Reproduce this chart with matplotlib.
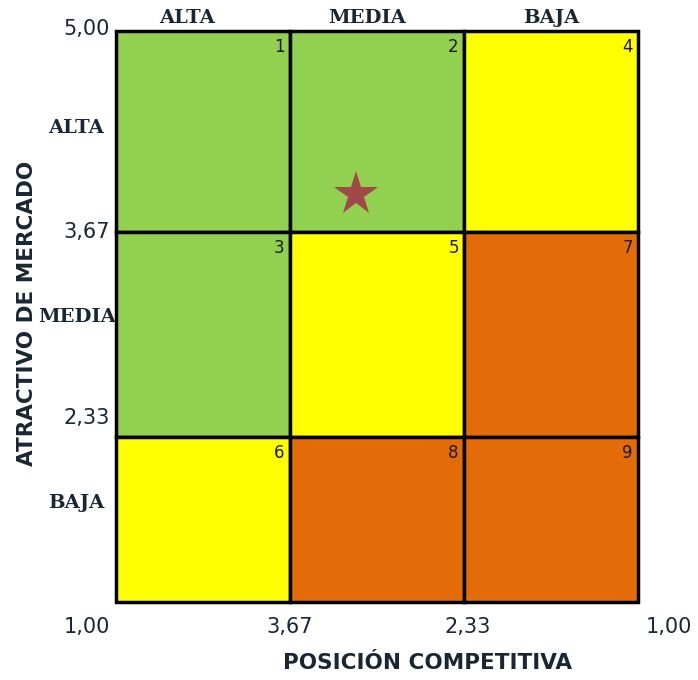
import numpy as np
import matplotlib.pyplot as plt
from matplotlib.patches import Rectangle

# Matriz GE / McKinsey
niveles = ['ALTA', 'MEDIA', 'BAJA']
numeros = [[1, 2, 4],
           [3, 5, 7],
           [6, 8, 9]]
colores = [['#92d050', '#92d050', '#ffff00'],
           ['#92d050', '#ffff00', '#e36c09'],
           ['#ffff00', '#e36c09', '#e36c09']]
ticks_y = ['5,00', '3,67', '2,33']
ticks_x = ['1,00', '3,67', '2,33', '1,00']

# posición de la empresa (columna, fila) en unidades de la cuadrícula
estrella = (1.38, 2.19)

# bordes de filas (alto desigual) y columnas
y_edges = [0, 165, 370, 571]
x_edges = [0, 1, 2, 3]

fig = plt.figure(figsize=(6.98, 6.8), dpi=100)
ax = fig.add_axes([0.1662, 0.1147, 0.914 - 0.1662, 0.9544 - 0.1147])
ax.set_xlim(0, 3)
ax.set_ylim(0, 571)
ax.axis('off')

for i in range(3):
    y0, y1 = y_edges[2 - i], y_edges[3 - i]
    for j in range(3):
        ax.add_patch(Rectangle((x_edges[j], y0), 1, y1 - y0,
                               facecolor=colores[i][j], edgecolor='black',
                               linewidth=2.5, clip_on=False))
        ax.text(x_edges[j + 1] - 0.03, y1 - 7, str(numeros[i][j]),
                ha='right', va='top', fontsize=12, color='#1a1a1a')

# estrella
sx = estrella[0]
sy = np.interp(estrella[1], [0, 1, 2, 3], y_edges)
ax.plot(sx, sy, marker='*', markersize=33, color='#a3394a', alpha=0.9,
        markeredgewidth=0)

txt = '#1a2633'
serif = dict(family='DejaVu Serif', fontsize=14, color=txt, fontweight='bold')
sans = dict(family='DejaVu Sans', fontsize=15, color=txt)

# encabezados de columnas
for xc, n in zip([0.41, 1.44, 2.5], niveles):
    ax.text(xc, 571 + 13, n, ha='center', va='center', **serif)

# etiquetas de filas
ax.text(-0.07, 571 - 97, niveles[0], ha='right', va='center', **serif)
ax.text(0.0, 571 - 286, niveles[1], ha='right', va='center', **serif)
ax.text(-0.07, 571 - 472, niveles[2], ha='right', va='center', **serif)

# ticks eje y
ax.text(-0.035, 573, ticks_y[0], ha='right', va='center', **sans)
ax.text(-0.035, 370, ticks_y[1], ha='right', va='center', **sans)
ax.text(-0.035, 184, ticks_y[2], ha='right', va='center', **sans)

# ticks eje x
for xt, lab in zip([-0.165, 1.0, 2.02, 3.18], ticks_x):
    ax.text(xt, -25, lab, ha='center', va='center', **sans)

ax.text(1.79, -61, 'POSICIÓN COMPETITIVA', ha='center', va='center',
        fontsize=15.5, fontweight='bold', color=txt, family='DejaVu Sans')
ax.text(-0.51, 571 - 282, 'ATRACTIVO DE MERCADO', ha='center', va='center',
        rotation=90, fontsize=15.5, fontweight='bold', color=txt,
        family='DejaVu Sans')

fig.savefig('out.png', dpi=100)
